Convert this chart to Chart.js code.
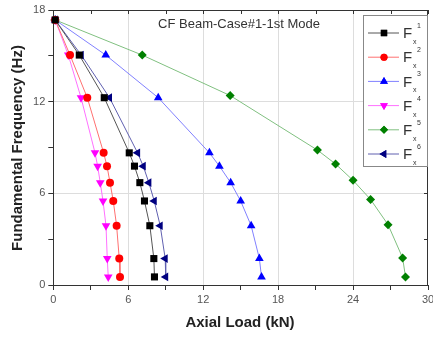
<!DOCTYPE html>
<html>
<head>
<meta charset="utf-8">
<script src="https://cdn.jsdelivr.net/npm/chart.js@4.4.1/dist/chart.umd.min.js"></script>
<style>
  html, body { margin: 0; padding: 0; background: #fff; }
  #wrap { width: 433px; height: 338px; position: relative; }
</style>
</head>
<body>
<div id="wrap"><canvas id="chart" width="433" height="338"></canvas></div>
<script>
const seriesNames = ['1', '2', '3', '4', '5', '6'];
const freqLevels = [17.35, 15.05, 12.26, 8.65, 7.78, 6.7, 5.5, 3.88, 1.73, 0.53];
const freqF5 = [17.35, 15.05, 12.4, 8.83, 7.92, 6.85, 5.6, 3.95, 1.77, 0.52];
const loadF1 = [0.15, 2.08, 4.08, 6.08, 6.5, 6.93, 7.3, 7.73, 8.05, 8.1];
const loadF2 = [0.15, 1.34, 2.72, 4.03, 4.3, 4.54, 4.8, 5.07, 5.28, 5.34];
const loadF3 = [0.15, 4.2, 8.4, 12.5, 13.3, 14.2, 15.0, 15.84, 16.5, 16.67];
const loadF4 = [0.15, 1.2, 2.22, 3.34, 3.55, 3.76, 3.98, 4.22, 4.32, 4.4];
const loadF5 = [0.15, 7.12, 14.16, 21.15, 22.6, 24.0, 25.4, 26.8, 27.97, 28.2];
const loadF6 = [0.15, 2.24, 4.5, 6.75, 7.2, 7.65, 8.08, 8.56, 8.96, 9.0];
const xTicks = [0, 6, 12, 18, 24, 30];
const yTicks = [0, 6, 12, 18];

const FONT = '"Liberation Sans", Arial, sans-serif';

function pts(xs, ys) { return xs.map((x, i) => ({ x, y: ys[i] })); }

function mkSet(name, xs, ys, line, fill, style, rot, r) {
  return {
    label: name, data: pts(xs, ys), showLine: true,
    borderColor: line, borderWidth: 1,
    pointBackgroundColor: fill, pointBorderColor: fill, pointBorderWidth: 0,
    pointStyle: style, pointRotation: rot, pointRadius: r, pointHoverRadius: r,
    clip: false
  };
}

const datasets = [
  mkSet(seriesNames[0], loadF1, freqLevels, '#555555', '#000000', 'rect', 0, 5),
  mkSet(seriesNames[1], loadF2, freqLevels, '#ff7070', '#ff0000', 'circle', 0, 4),
  mkSet(seriesNames[2], loadF3, freqLevels, '#8080ff', '#0000ff', 'triangle', 0, 5),
  mkSet(seriesNames[3], loadF4, freqLevels, '#ff70ff', '#ff00ff', 'triangle', 180, 5),
  mkSet(seriesNames[4], loadF5, freqF5, '#80c080', '#008000', 'rectRot', 0, 4.5),
  mkSet(seriesNames[5], loadF6, freqLevels, '#6060b0', '#000080', 'triangle', 270, 5)
];

const framePlugin = {
  id: 'frame',
  afterDraw(c) {
    const { ctx, chartArea: a, scales } = c;
    ctx.save();
    ctx.strokeStyle = '#333';
    ctx.lineWidth = 1;
    ctx.beginPath();
    ctx.moveTo(a.left, a.top + 0.5); ctx.lineTo(a.right, a.top + 0.5);
    ctx.moveTo(a.right - 0.5, a.top); ctx.lineTo(a.right - 0.5, a.bottom);
    scales.x.ticks.forEach(t => {
      const px = Math.round(scales.x.getPixelForValue(t.value)) + 0.5;
      ctx.moveTo(px, a.top); ctx.lineTo(px, a.top + 4);
    });
    scales.y.ticks.forEach(t => {
      const py = Math.round(scales.y.getPixelForValue(t.value)) + 0.5;
      ctx.moveTo(a.right, py); ctx.lineTo(a.right - 4, py);
    });
    ctx.stroke();

    // title inside plot
    ctx.fillStyle = '#333';
    ctx.font = '13px ' + FONT;
    ctx.textAlign = 'center';
    ctx.textBaseline = 'middle';
    ctx.fillText('CF Beam-Case#1-1st Mode', 239, 24);

    // axis titles
    ctx.fillStyle = '#222';
    ctx.font = 'bold 15px ' + FONT;
    ctx.fillText('Axial Load (kN)', 240, 323);
    ctx.save();
    ctx.translate(18, 148);
    ctx.rotate(-Math.PI / 2);
    ctx.fillText('Fundamental Frequency (Hz)', 0, 0);
    ctx.restore();

    // legend
    const L = 363, T = 15, W = 64, H = 151;
    ctx.fillStyle = '#fff';
    ctx.fillRect(L, T, W, H);
    ctx.strokeStyle = '#888';
    ctx.strokeRect(L + 0.5, T + 0.5, W, H);
    c.data.datasets.forEach((ds, i) => {
      const y = 33 + i * 24.2;
      ctx.strokeStyle = ds.borderColor;
      ctx.beginPath();
      ctx.moveTo(368, y); ctx.lineTo(399, y);
      ctx.stroke();
      ctx.fillStyle = ds.pointBackgroundColor;
      Chart.helpers.drawPoint(ctx, { pointStyle: ds.pointStyle, rotation: ds.pointRotation, radius: ds.pointRadius - 0.5, borderWidth: 0 }, 384, y);
      ctx.fill();
      ctx.fillStyle = '#333';
      ctx.textAlign = 'left';
      ctx.font = '15px ' + FONT;
      ctx.fillText('F', 403, y + 1);
      ctx.font = '7px ' + FONT;
      ctx.fillText(ds.label, 417, y - 7);
      ctx.fillText('x', 413, y + 9);
    });
    ctx.restore();
  }
};

new Chart(document.getElementById('chart'), {
  type: 'scatter',
  data: { datasets },
  options: {
    responsive: false, animation: false,
    layout: { padding: { top: 10, right: 4.5, left: 0, bottom: 0 } },
    plugins: { legend: { display: false }, tooltip: { enabled: false } },
    scales: {
      x: {
        min: 0, max: 30,
        afterFit: s => { s.height = 53; s.paddingLeft = 0; s.paddingRight = 0; },
        ticks: {
          stepSize: 3, autoSkip: false, maxRotation: 0, padding: 3,
          color: '#555', font: { size: 11, family: FONT },
          callback: v => xTicks.includes(v) ? String(v) : ''
        },
        grid: {
          color: c => (c.tick && c.tick.value % 6 === 0 && c.tick.value > 0 && c.tick.value < 30) ? '#dddddd' : 'rgba(0,0,0,0)',
          tickColor: '#333', tickLength: 5, drawTicks: true
        },
        border: { color: '#333', width: 1 }
      },
      y: {
        min: 0, max: 18,
        afterFit: s => { s.width = 53.3; s.paddingTop = 0; s.paddingBottom = 0; },
        ticks: {
          stepSize: 3, autoSkip: false, padding: 3,
          color: '#555', font: { size: 11, family: FONT },
          callback: v => yTicks.includes(v) ? String(v) : ''
        },
        grid: {
          color: c => (c.tick && c.tick.value % 6 === 0 && c.tick.value > 0 && c.tick.value < 18) ? '#dddddd' : 'rgba(0,0,0,0)',
          tickColor: '#333', tickLength: 5, drawTicks: true
        },
        border: { color: '#333', width: 1 }
      }
    }
  },
  plugins: [framePlugin]
});
</script>
</body>
</html>
